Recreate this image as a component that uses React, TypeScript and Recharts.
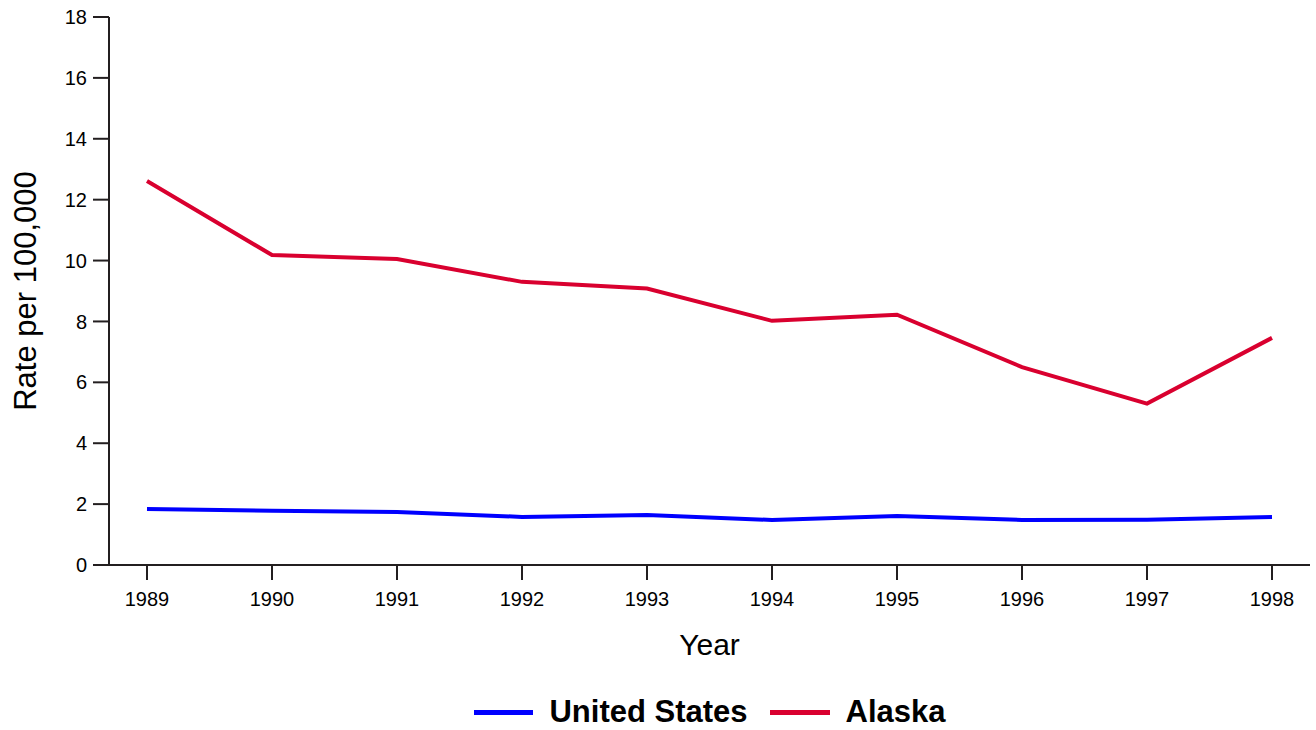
import { LineChart, Line, XAxis, YAxis, Label } from "recharts";

const years = ["1989", "1990", "1991", "1992", "1993", "1994", "1995", "1996", "1997", "1998"];
const unitedStates = [1.84, 1.78, 1.74, 1.58, 1.64, 1.48, 1.61, 1.48, 1.49, 1.58];
const alaska = [12.61, 10.18, 10.05, 9.3, 9.08, 8.02, 8.22, 6.5, 5.3, 7.46];
const yTicks = [0, 2, 4, 6, 8, 10, 12, 14, 16, 18];

const BLUE = "#0000ff";
const RED = "#d9002f";
const FONT = "Arial, 'Liberation Sans', sans-serif";

const data = years.map((year, i) => ({
  year,
  "United States": unitedStates[i],
  Alaska: alaska[i],
}));

const LegendRow = () => (
  <div
    style={{
      position: "absolute",
      left: 0,
      top: 694,
      width: 1420,
      display: "flex",
      justifyContent: "center",
      alignItems: "center",
      fontFamily: FONT,
      fontWeight: "bold",
      fontSize: 31,
    }}
  >
    <span style={{ display: "inline-block", width: 59, height: 5, background: BLUE, marginRight: 16 }} />
    <span style={{ marginRight: 22 }}>United States</span>
    <span style={{ display: "inline-block", width: 60, height: 5, background: RED, marginRight: 16 }} />
    <span>Alaska</span>
  </div>
);

export default function App() {
  return (
    <div style={{ position: "absolute", left: 0, top: 0, width: 1316, height: 730 }}>
      <LineChart
        width={1316}
        height={730}
        data={data}
        margin={{ top: 17, right: 6, left: 0, bottom: 135 }}
      >
        <XAxis
          dataKey="year"
          height={30}
          padding={{ left: 38, right: 38 }}
          stroke="#231f20"
          strokeWidth={2}
          tickSize={15}
          tickMargin={12}
          tick={{ fill: "#000", fontSize: 20, fontFamily: FONT }}
          tickLine={{ stroke: "#231f20", strokeWidth: 2 }}
        >
          <Label
            value="Year"
            position="bottom"
            offset={39}
            style={{ fill: "#000", fontSize: 30, fontFamily: FONT }}
          />
        </XAxis>
        <YAxis
          width={109}
          domain={[0, 18]}
          ticks={yTicks}
          interval={0}
          stroke="#231f20"
          strokeWidth={2}
          tickSize={16}
          tickMargin={6}
          tick={{ fill: "#000", fontSize: 20, fontFamily: FONT }}
          tickLine={{ stroke: "#231f20", strokeWidth: 2 }}
        >
          <Label
            value="Rate per 100,000"
            angle={-90}
            position="insideLeft"
            offset={25}
            style={{ textAnchor: "middle", fill: "#000", fontSize: 31, fontFamily: FONT }}
          />
        </YAxis>
        <Line
          type="linear"
          dataKey="United States"
          stroke={BLUE}
          strokeWidth={4}
          dot={false}
          isAnimationActive={false}
        />
        <Line
          type="linear"
          dataKey="Alaska"
          stroke={RED}
          strokeWidth={4}
          dot={false}
          isAnimationActive={false}
        />
      </LineChart>
      <LegendRow />
    </div>
  );
}
